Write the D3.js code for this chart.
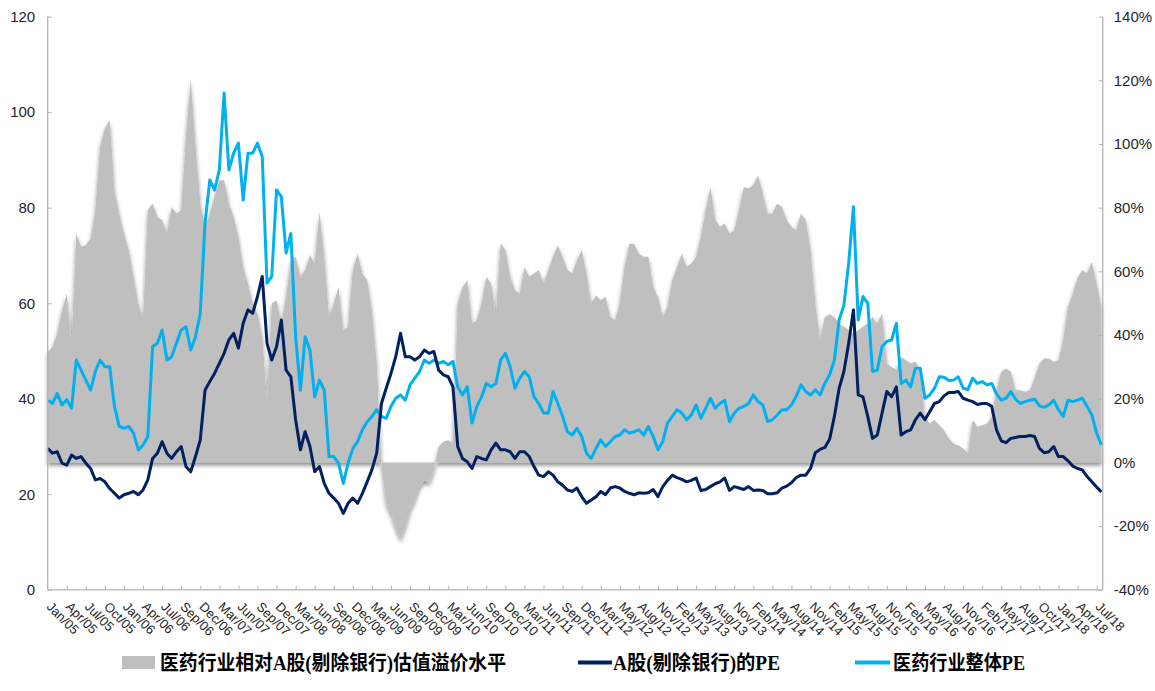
<!DOCTYPE html>
<html><head><meta charset="utf-8">
<script src="https://cdn.jsdelivr.net/npm/d3@7"></script>
<style>body{margin:0;background:#fff}svg{display:block}</style>
</head><body>
<svg id="chart" width="1155" height="691"></svg>
<script>
// x tick labels (one every 13 trading weeks)
const tickLabels = ["Jan/05","Apr/05","Jul/05","Oct/05","Jan/06","Apr/06","Jul/06","Sep/06","Dec/06","Mar/07","Jun/07","Sep/07","Dec/07","Mar/08","Jun/08","Sep/08","Dec/08","Mar/09","Jun/09","Sep/09","Dec/09","Mar/10","Jun/10","Sep/10","Dec/10","Mar/11","Jun/11","Sep/11","Dec/11","Mar/12","May/12","Aug/12","Nov/12","Feb/13","May/13","Aug/13","Nov/13","Feb/14","May/14","Aug/14","Nov/14","Feb/15","May/15","Aug/15","Nov/15","Feb/16","May/16","Aug/16","Nov/16","Feb/17","May/17","Aug/17","Oct/17","Jan/18","Apr/18","Jul/18"];
// samples are read every quarter of a label interval
const sampleStep = 0.25;
const leftTicks = [0,20,40,60,80,100,120];
const rightTicks = [-40,-20,0,20,40,60,80,100,120,140];
const seriesNames = ["医药行业相对A股(剔除银行)估值溢价水平","A股(剔除银行)的PE","医药行业整体PE"];

// 医药行业相对A股(剔除银行)估值溢价水平 (%), right axis
const premium = [
34.7,36.3,40.5,47.8, 53.0,37.4,71.9,67.7, 68.2,70.3,79.2,99.1, 104.9,107.5,85.5,78.2,
71.9,66.7,58.3,49.9, 44.7,79.2,81.3,77.1, 76.1,71.9,80.2,78.2, 79.2,102.2,120.5,99.1,
81.3,74.0,78.2,83.4, 88.6,88.6,81.3,77.1, 70.8,61.4,56.2,49.9, 46.8,39.5,18.5,49.9,
50.9,43.6,52.0,63.5, 64.6,58.3,60.4,65.1, 62.5,78.7,64.6,45.7, 49.9,55.1,41.5,42.6,
60.4,65.6,59.3,57.2, 47.8,31.1,-0.3,-12.9, -16.0,-20.2,-24.4,-20.2, -15.0,-11.8,-7.6,-5.6,
-6.6,-2.4,4.9,6.5, 7.0,6.0,49.9,55.1, 57.2,43.6,44.7,49.9, 58.3,56.2,45.7,68.8,
66.7,58.3,54.1,53.0, 61.4,58.3,59.3,60.4, 56.2,60.4,64.6,68.2, 64.6,60.4,59.3,63.5,
66.7,59.3,49.9,52.5, 50.9,52.0,45.7,44.7, 49.9,61.4,68.7,68.7, 65.6,64.6,64.6,55.1,
52.0,45.7,48.9,57.2, 61.4,65.6,61.4,62.5, 64.6,70.8,79.2,86.5, 76.1,74.0,75.0,71.9,
72.9,79.2,86.5,86.0, 87.1,90.2,84.4,78.2, 78.2,81.3,80.3,76.1, 74.0,72.9,78.2,76.1,
66.7,49.9,38.4,45.7, 46.5,45.7,43.6,42.6, 41.5,40.5,41.5,42.6, 43.6,45.7,43.6,46.8,
31.1,30.0,29.0,33.2, 32.1,31.1,31.6,29.0, 14.3,12.2,13.3,11.7, 10.1,7.5,5.9,5.4,
4.4,2.8,13.3,11.2, 11.7,12.2,14.3,22.7, 28.5,29.5,28.5,22.7, 22.7,22.2,22.7,26.4,
31.1,32.6,32.6,31.6, 32.1,38.4,48.9,53.0, 57.8,60.4,59.3,63.0, 56.2,48.9];

// A股(剔除银行)的PE, left axis
const aSharePE = [
29.6,28.6,28.9,26.5, 26.1,28.2,27.5,27.9, 26.5,25.4,23.0,23.3, 22.6,21.2,20.2,19.2,
19.9,20.2,20.6,19.9, 20.9,23.0,27.5,28.6, 31.0,28.6,27.5,28.9, 30.0,25.8,24.7,27.9,
31.4,41.8,43.6,45.3, 47.4,49.5,52.3,53.7, 50.6,55.8,58.6,57.9, 61.4,65.6,51.6,48.1,
50.9,56.5,46.0,44.6, 35.6,29.3,33.1,30.0, 24.7,25.8,22.3,20.2, 19.2,18.1,16.0,18.1,
19.2,18.1,20.2,22.6, 25.1,28.6,39.0,42.2, 45.3,48.8,53.7,48.8, 48.8,48.1,48.8,50.2,
49.5,49.9,46.0,45.0, 44.6,42.5,30.0,27.5, 26.8,25.4,27.9,27.5, 27.2,29.3,30.7,29.3,
29.3,28.9,27.5,28.9, 28.9,27.9,25.8,24.0, 23.7,24.7,24.0,22.6, 21.9,20.9,20.6,21.3,
19.5,18.1,18.8,19.5, 20.6,19.9,21.3,21.6, 21.3,20.6,20.2,19.9, 20.3,20.2,20.3,21.0,
19.5,21.6,22.9,24.0, 23.5,23.1,22.6,22.9, 23.4,20.8,21.0,21.6, 22.2,22.6,23.4,20.8,
21.6,21.3,21.0,21.6, 20.8,20.9,20.8,20.1, 20.1,20.3,21.3,21.7, 22.4,23.5,24.0,24.0,
25.4,28.7,29.4,29.8, 31.5,36.3,42.2,45.7, 51.6,58.6,40.8,40.4, 36.3,31.7,32.4,37.0,
41.5,40.4,42.5,32.4, 33.1,33.5,35.6,37.0, 35.6,37.3,39.0,39.4, 40.6,41.3,41.3,41.5,
40.1,39.7,39.4,38.8, 39.0,39.0,38.4,33.5, 31.2,30.8,31.7,31.9, 32.1,32.1,32.3,32.1,
29.6,28.7,28.9,30.0, 27.9,27.9,27.0,25.9, 25.4,25.1,23.7,22.6, 21.5,20.5];

// 医药行业整体PE, left axis
const pharmaPE = [
39.8,39.0,41.1,38.7, 39.8,38.0,48.1,46.0, 43.9,41.8,45.7,48.1, 46.7,46.7,38.4,34.2,
33.8,34.2,32.8,29.3, 30.3,32.1,50.9,51.6, 54.4,48.1,48.8,51.6, 54.4,55.1,50.2,53.0,
57.9,76.8,85.8,83.7, 87.9,104.0,87.9,91.4, 93.5,81.6,91.4,91.4, 93.5,90.7,64.2,65.6,
83.7,82.3,70.5,74.6, 53.0,41.8,53.0,50.2, 40.4,43.9,41.8,27.9, 27.9,26.5,22.3,26.5,
29.6,31.0,33.5,35.2, 36.3,37.7,36.3,35.9, 38.4,40.1,40.8,39.7, 42.9,44.3,45.7,48.1,
47.4,48.1,47.4,47.8, 47.1,47.8,42.5,40.8, 42.5,34.9,38.4,40.4, 43.2,42.5,43.2,48.1,
49.5,46.7,42.2,44.3, 45.7,44.6,40.4,39.0, 37.0,37.0,41.5,39.0, 36.3,33.1,32.4,33.8,
32.1,28.6,27.5,29.6, 31.4,30.0,31.0,32.1, 32.4,33.5,32.8,33.1, 33.5,32.4,34.2,32.1,
29.3,31.0,34.9,36.3, 37.7,37.0,35.6,36.6, 38.7,35.9,38.0,40.1, 38.0,39.0,39.7,35.2,
37.0,38.0,38.4,39.0, 40.8,39.4,38.7,35.2, 35.6,36.6,37.7,37.7, 38.7,40.5,42.9,41.5,
40.8,41.9,40.8,43.2, 45.0,48.1,56.5,59.6, 68.4,80.2,56.5,61.4, 60.0,45.7,46.0,50.9,
52.0,52.3,55.8,43.2, 43.9,42.5,46.4,46.4, 40.1,40.8,42.2,44.6, 44.5,43.8,43.9,44.6,
42.2,41.9,44.3,43.2, 43.6,42.9,43.2,41.0, 39.7,40.1,41.5,39.9, 39.0,39.4,39.7,39.9,
38.5,38.2,38.7,39.7, 37.7,36.3,39.7,39.4, 39.7,40.1,38.4,36.6, 32.8,30.3];

const colors = {area:"#bfbfbf", navy:"#002060", blue:"#00b0f0", axis:"#b3b3b3", text:"#262626"};

const svg = d3.select("#chart");
const plotLeft = 47.7, plotRight = 1102.7, plotTop = 16.6, plotBottom = 589.8;

const x = d3.scaleLinear().domain([0, tickLabels.length - 1]).range([plotLeft, 1096.6]);
const yL = d3.scaleLinear().domain([0, 120]).range([plotBottom, plotTop]);
const yR = d3.scaleLinear().domain([-40, 140]).range([plotBottom, plotTop]);

const defs = svg.append("defs");
const f = defs.append("filter").attr("id","shadow").attr("x","-2%").attr("y","-5%").attr("width","104%").attr("height","115%");
f.append("feGaussianBlur").attr("in","SourceAlpha").attr("stdDeviation",2).attr("result","b");
f.append("feOffset").attr("in","b").attr("dx",0).attr("dy",3).attr("result","o");
f.append("feComponentTransfer").attr("in","o").attr("result","s")
  .append("feFuncA").attr("type","linear").attr("slope",0.45);
f.append("feGaussianBlur").attr("in","SourceGraphic").attr("stdDeviation",0.6).attr("result","soft");
const m = f.append("feMerge");
m.append("feMergeNode").attr("in","s");
m.append("feMergeNode").attr("in","soft");

const toPts = arr => arr.map((v,i)=>({t:i*sampleStep, v}));

// area
const area = d3.area().x(d=>x(d.t)).y0(yR(0)).y1(d=>yR(d.v));
svg.append("path").datum(toPts(premium)).attr("d",area)
  .attr("fill",colors.area).attr("filter","url(#shadow)");

// lines
const lineL = d3.line().x(d=>x(d.t)).y(d=>yL(d.v));
svg.append("path").datum(toPts(pharmaPE)).attr("d",lineL)
  .attr("fill","none").attr("stroke",colors.blue).attr("stroke-width",3).attr("stroke-linejoin","round");
svg.append("path").datum(toPts(aSharePE)).attr("d",lineL)
  .attr("fill","none").attr("stroke",colors.navy).attr("stroke-width",3).attr("stroke-linejoin","round");

// axes
const gL = svg.append("g").attr("transform",`translate(${plotLeft},0)`)
  .call(d3.axisLeft(yL).tickValues(leftTicks).tickSize(-4).tickSizeOuter(0).tickPadding(12.5));
const gR = svg.append("g").attr("transform",`translate(${plotRight},0)`)
  .call(d3.axisRight(yR).tickValues(rightTicks).tickSize(-4).tickSizeOuter(0).tickPadding(11).tickFormat(d=>d+"%"));
const gB = svg.append("g").attr("transform",`translate(0,${plotBottom})`)
  .call(d3.axisBottom(x).tickValues(d3.range(1, tickLabels.length)).tickSize(-4).tickSizeOuter(0).tickFormat(""));
gB.select(".domain").attr("d",`M${plotLeft},0H${plotRight}`);
gL.select(".domain").attr("d",`M0,${plotTop}V${plotBottom}`);
gR.select(".domain").attr("d",`M0,${plotTop}V${plotBottom}`);
[gL,gR,gB].forEach(g=>{
  g.selectAll(".domain").attr("stroke",colors.axis).attr("stroke-width",1.3);
  g.selectAll(".tick line").attr("stroke",colors.axis).attr("stroke-width",1);
  g.selectAll("text").attr("font-family","'Liberation Sans', Arial, sans-serif").attr("font-size",15).attr("fill",colors.text);
});

// rotated category labels
svg.append("g").selectAll("text").data(tickLabels).join("text")
  .attr("transform",(d,i)=>`translate(${x(i)+5},${plotBottom+11}) rotate(45)`)
  .attr("font-family","'Liberation Sans', Arial, sans-serif").attr("font-size",13)
  .attr("fill",colors.text).attr("dominant-baseline","hanging")
  .text(d=>d);

// legend
const lg = svg.append("g");
lg.append("rect").attr("x",122).attr("y",656).attr("width",33).attr("height",13).attr("fill",colors.area);
lg.append("line").attr("x1",578).attr("x2",612).attr("y1",662.5).attr("y2",662.5).attr("stroke",colors.navy).attr("stroke-width",4);
lg.append("line").attr("x1",855).attr("x2",890).attr("y1",662.5).attr("y2",662.5).attr("stroke",colors.blue).attr("stroke-width",4);
const legendItems = [{x:160,w:346},{x:613,w:167},{x:893,w:132}];
lg.selectAll("text.lt").data(seriesNames).join("text").attr("class","lt")
  .attr("x",(d,i)=>legendItems[i].x).attr("y",663)
  .attr("dominant-baseline","central")
  .attr("font-family","'Liberation Serif','Noto Sans CJK SC',serif").attr("font-weight","bold").attr("font-size",20)
  .attr("textLength",(d,i)=>legendItems[i].w).attr("lengthAdjust","spacingAndGlyphs")
  .attr("fill","#000").text(d=>d);
</script>
</body></html>
